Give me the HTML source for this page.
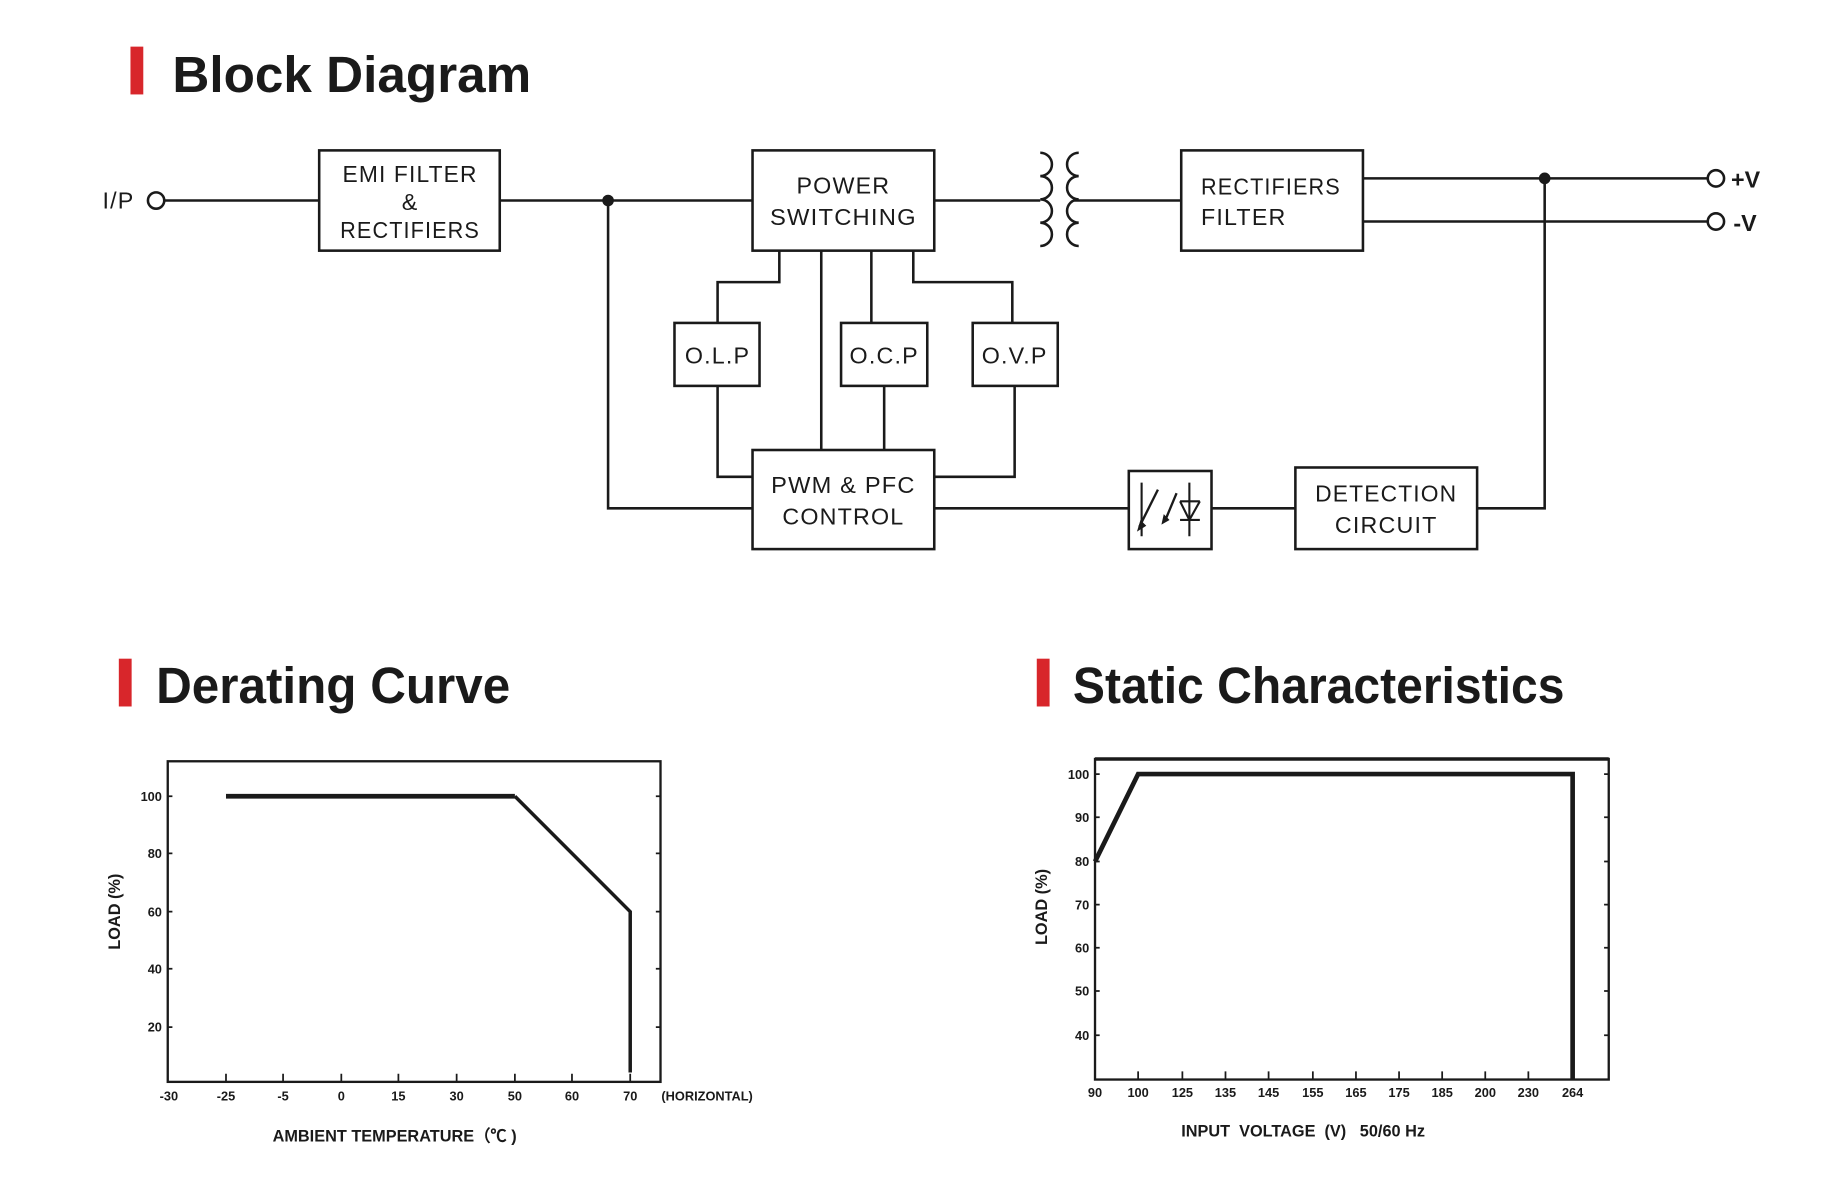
<!DOCTYPE html>
<html><head><meta charset="utf-8"><style>
html,body{margin:0;padding:0;background:#fff;}
svg{display:block;}
text{font-family:"Liberation Sans",sans-serif;fill:#1a1a1a;}
</style></head><body>
<svg width="1826" height="1184" viewBox="0 0 1567.5 1015.6" preserveAspectRatio="none" xmlns="http://www.w3.org/2000/svg">
<g fill="#d8262b"><rect x="112" y="40" width="11" height="41"/><rect x="102" y="565" width="11" height="41"/><rect x="890" y="565" width="11" height="41"/></g>
<g font-weight="bold" font-size="44">
<text x="148" y="79" textLength="308" lengthAdjust="spacingAndGlyphs">Block Diagram</text>
<text x="134" y="603" textLength="304" lengthAdjust="spacingAndGlyphs">Derating Curve</text>
<text x="921" y="603" textLength="422" lengthAdjust="spacingAndGlyphs">Static Characteristics</text>
</g>
<g fill="none" stroke="#1a1a1a" stroke-width="2.2">
<rect x="274" y="129" width="155" height="86"/>
<rect x="646" y="129" width="156" height="86"/>
<rect x="1014" y="129" width="156" height="86"/>
<rect x="579" y="277" width="73" height="54"/>
<rect x="722" y="277" width="74" height="54"/>
<rect x="835" y="277" width="73" height="54"/>
<rect x="646" y="386" width="156" height="85"/>
<rect x="969" y="404" width="71" height="67"/>
<rect x="1112" y="401" width="156" height="70"/>
<circle cx="134" cy="172" r="7"/>
<circle cx="1473" cy="153" r="7"/>
<circle cx="1473" cy="190" r="7"/>
<path d="M141 172H274M429 172H646M802 172H893M922 172H1014"/>
<path d="M1170 153H1466M1170 190H1466M1326 153V436H1268"/>
<path d="M669 215V242H616V277M705 215V386M748 215V277M784 215V242H869V277"/>
<path d="M616 331V409H646M759 331V386M871 331V409H802"/>
<path d="M522 172V436H646M802 436H969M1040 436H1112"/>
<path d="M893 131a10 10 0 0 1 0 20a10 10 0 0 1 0 20a10 10 0 0 1 0 20a10 10 0 0 1 0 20"/>
<path d="M926 131a10 10 0 0 0 0 20a10 10 0 0 0 0 20a10 10 0 0 0 0 20a10 10 0 0 0 0 20"/>
<path d="M980 414V460M1021 414V460M1013 430H1030M1013 446H1030" stroke-width="1.8"/>
<path d="M1013 430L1021 446L1030 430" stroke-width="1.8"/>
<path d="M994 420L978 452M1010 423L1000 447" stroke-width="2"/>
</g>
<g fill="#1a1a1a"><circle cx="522" cy="172" r="5"/><circle cx="1326" cy="153" r="5"/>
<path d="M976 456l3-10 5 5z"/><path d="M997 450l2-9 5 5z"/></g>
<g font-size="20" text-anchor="middle" letter-spacing="1">
<text x="88" y="179" text-anchor="start">I/P</text>
<text x="352" y="156" textLength="116" lengthAdjust="spacingAndGlyphs">EMI FILTER</text><text x="352" y="180">&amp;</text><text x="352" y="204" textLength="120" lengthAdjust="spacingAndGlyphs">RECTIFIERS</text>
<text x="724" y="166">POWER</text><text x="724" y="193" textLength="126" lengthAdjust="spacingAndGlyphs">SWITCHING</text>
<text x="1031" y="167" text-anchor="start" textLength="120" lengthAdjust="spacingAndGlyphs">RECTIFIERS</text><text x="1031" y="193" text-anchor="start">FILTER</text>
<text x="616" y="312">O.L.P</text><text x="759" y="312">O.C.P</text><text x="871" y="312">O.V.P</text>
<text x="724" y="423" textLength="124" lengthAdjust="spacingAndGlyphs">PWM &amp; PFC</text><text x="724" y="450">CONTROL</text>
<text x="1190" y="430" textLength="122" lengthAdjust="spacingAndGlyphs">DETECTION</text><text x="1190" y="457">CIRCUIT</text>
</g>
<g font-size="20" font-weight="bold"><text x="1486" y="161">+V</text><text x="1488" y="198">-V</text></g>
<g fill="none" stroke="#1a1a1a">
<rect x="144" y="653" width="423" height="275" stroke-width="2"/>
<path d="M194 928v-7M243 928v-7M293 928v-7M342 928v-7M392 928v-7M442 928v-7M491 928v-7M541 928v-7" stroke-width="1.5"/>
<path d="M144 683h4M144 732h4M144 782h4M144 831h4M144 881h4M567 683h-4M567 732h-4M567 782h-4M567 831h-4M567 881h-4" stroke-width="1.5"/>
<path d="M194 683H442" stroke-width="4"/>
<path d="M442 683L541 782V920" stroke-width="3"/>
<rect x="940" y="651" width="441" height="275" stroke-width="2"/>
<path d="M940 651H1381" stroke-width="3"/>
<path d="M977 926v-7M1015 926v-7M1052 926v-7M1089 926v-7M1127 926v-7M1164 926v-7M1201 926v-7M1238 926v-7M1275 926v-7M1312 926v-7" stroke-width="1.5"/>
<path d="M940 664h4M940 701h4M940 739h4M940 776h4M940 813h4M940 850h4M940 888h4M1381 664h-4M1381 701h-4M1381 739h-4M1381 776h-4M1381 813h-4M1381 850h-4M1381 888h-4" stroke-width="1.5"/>
<path d="M940 739L977 664H1350V926" stroke-width="4"/>
</g>
<g font-size="11" font-weight="bold" text-anchor="end">
<text x="139" y="687">100</text><text x="139" y="736">80</text><text x="139" y="786">60</text><text x="139" y="835">40</text><text x="139" y="885">20</text>
<text x="935" y="668">100</text><text x="935" y="705">90</text><text x="935" y="743">80</text><text x="935" y="780">70</text><text x="935" y="817">60</text><text x="935" y="854">50</text><text x="935" y="892">40</text>
</g>
<g font-size="11" font-weight="bold" text-anchor="middle">
<text x="145" y="944">-30</text><text x="194" y="944">-25</text><text x="243" y="944">-5</text><text x="293" y="944">0</text><text x="342" y="944">15</text><text x="392" y="944">30</text><text x="442" y="944">50</text><text x="491" y="944">60</text><text x="541" y="944">70</text>
<text x="607" y="944">(HORIZONTAL)</text>
<text x="940" y="941">90</text><text x="977" y="941">100</text><text x="1015" y="941">125</text><text x="1052" y="941">135</text><text x="1089" y="941">145</text><text x="1127" y="941">155</text><text x="1164" y="941">165</text><text x="1201" y="941">175</text><text x="1238" y="941">185</text><text x="1275" y="941">200</text><text x="1312" y="941">230</text><text x="1350" y="941">264</text>
</g>
<g font-size="14" font-weight="bold" text-anchor="middle">
<text x="103" y="782" transform="rotate(-90 103 782)">LOAD (%)</text>
<text x="899" y="778" transform="rotate(-90 899 778)">LOAD (%)</text>
</g>
<g font-size="14" font-weight="bold">
<text x="234" y="979">AMBIENT TEMPERATURE（℃ )</text>
<text x="1014" y="975" xml:space="preserve">INPUT  VOLTAGE  (V)   50/60 Hz</text>
</g>
</svg>
</body></html>
